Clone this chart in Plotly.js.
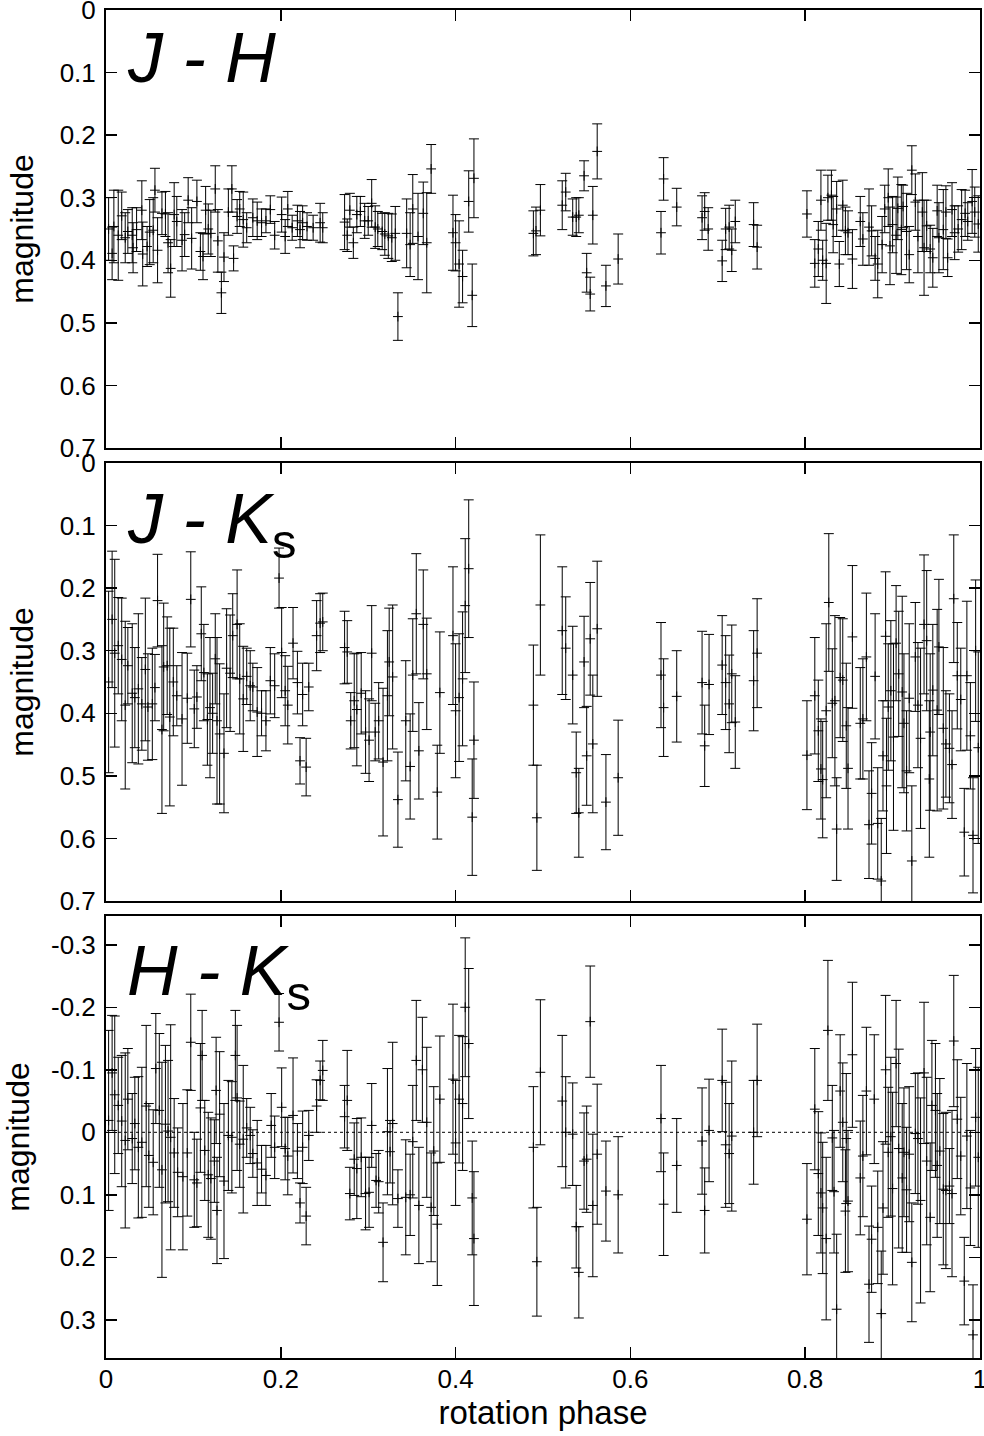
<!DOCTYPE html>
<html>
<head>
<meta charset="utf-8">
<script src="https://cdn.plot.ly/plotly-3.0.1.min.js"></script>
<style>html,body{margin:0;padding:0;background:#fff;}#chart{width:984px;height:1436px;}</style>
</head>
<body>
<div id="chart"></div>
<script>
// ---- Panel 1: J - H ----
const phaseJH = [0.003,0.007,0.009,0.014,0.018,0.022,0.025,0.030,0.031,0.035,0.041,0.042,0.047,0.050,0.054,0.056,0.059,0.064,0.068,0.071,0.074,0.078,0.081,0.087,0.090,0.094,0.098,0.104,0.108,0.111,0.114,0.117,0.120,0.125,0.128,0.132,0.135,0.140,0.144,0.146,0.150,0.153,0.157,0.161,0.168,0.173,0.178,0.183,0.188,0.193,0.201,0.205,0.208,0.213,0.219,0.222,0.225,0.230,0.237,0.245,0.248,
0.273,0.276,0.279,0.283,0.287,0.291,0.296,0.300,0.304,0.308,0.311,0.316,0.319,0.323,0.327,0.331,0.334,0.344,0.348,0.351,0.357,0.363,0.367,0.372,0.397,0.400,0.404,0.408,0.415,0.419,0.421,
0.489,0.492,0.497,0.522,0.526,0.534,0.538,0.541,0.547,0.550,0.554,0.557,0.562,0.572,0.586,0.635,0.638,0.653,0.682,0.685,0.689,0.705,0.709,0.713,0.716,0.720,0.741,0.745,
0.802,0.811,0.815,0.818,0.820,0.824,0.826,0.830,0.832,0.836,0.839,0.843,0.846,0.849,0.854,0.863,0.866,0.873,0.876,0.880,0.883,0.888,0.891,0.895,0.897,0.900,0.904,0.906,0.910,0.912,0.916,0.919,0.922,0.926,0.929,0.934,0.936,0.939,0.943,0.946,0.951,0.953,0.958,0.961,0.963,0.968,0.971,0.975,0.979,0.983,0.986,0.991,0.994,0.998];
const valJH = [0.350,0.389,0.346,0.360,0.329,0.364,0.354,0.360,0.380,0.351,0.320,0.390,0.378,0.355,0.352,0.288,0.384,0.325,0.326,0.372,0.413,0.327,0.338,0.368,0.359,0.304,0.365,0.306,0.386,0.394,0.320,0.350,0.357,0.286,0.369,0.452,0.395,0.323,0.286,0.397,0.330,0.318,0.335,0.348,0.332,0.337,0.340,0.337,0.319,0.360,0.327,0.362,0.318,0.348,0.337,0.351,0.340,0.346,0.348,0.340,0.348,
0.339,0.360,0.320,0.372,0.327,0.322,0.337,0.337,0.309,0.347,0.350,0.354,0.358,0.361,0.364,0.357,0.490,0.357,0.375,0.318,0.362,0.325,0.372,0.254,0.356,0.372,0.406,0.426,0.306,0.456,0.269,
0.357,0.353,0.320,0.312,0.291,0.331,0.331,0.328,0.265,0.420,0.454,0.328,0.226,0.441,0.398,0.356,0.270,0.315,0.332,0.322,0.350,0.401,0.350,0.347,0.384,0.338,0.343,0.379,
0.326,0.405,0.382,0.304,0.400,0.405,0.300,0.296,0.343,0.318,0.406,0.312,0.353,0.356,0.398,0.338,0.366,0.347,0.353,0.397,0.406,0.375,0.318,0.300,0.377,0.343,0.360,0.317,0.351,0.314,0.354,0.391,0.256,0.307,0.362,0.323,0.380,0.345,0.382,0.396,0.321,0.364,0.351,0.323,0.396,0.319,0.356,0.350,0.335,0.325,0.338,0.306,0.323,0.342];
const errJH = [0.050,0.042,0.058,0.072,0.038,0.040,0.035,0.044,0.040,0.035,0.047,0.051,0.032,0.052,0.052,0.035,0.052,0.034,0.036,0.048,0.046,0.051,0.040,0.049,0.035,0.036,0.049,0.034,0.030,0.037,0.038,0.040,0.037,0.037,0.050,0.033,0.039,0.037,0.037,0.020,0.027,0.028,0.044,0.024,0.030,0.030,0.022,0.019,0.022,0.022,0.028,0.027,0.028,0.020,0.025,0.029,0.027,0.022,0.020,0.031,0.024,
0.044,0.026,0.027,0.025,0.029,0.024,0.028,0.023,0.038,0.034,0.028,0.029,0.034,0.036,0.038,0.043,0.038,0.055,0.051,0.055,0.069,0.050,0.080,0.039,0.060,0.045,0.069,0.042,0.049,0.050,0.063,
0.036,0.038,0.041,0.039,0.030,0.029,0.031,0.028,0.024,0.031,0.027,0.046,0.044,0.033,0.040,0.034,0.034,0.030,0.035,0.030,0.034,0.033,0.033,0.035,0.034,0.034,0.035,0.035,
0.037,0.038,0.044,0.048,0.032,0.064,0.036,0.040,0.045,0.044,0.036,0.040,0.038,0.035,0.047,0.040,0.042,0.061,0.040,0.035,0.054,0.045,0.038,0.046,0.062,0.045,0.061,0.050,0.072,0.034,0.061,0.045,0.039,0.045,0.058,0.063,0.076,0.041,0.038,0.047,0.041,0.056,0.064,0.042,0.030,0.043,0.043,0.037,0.048,0.037,0.030,0.051,0.040,0.045];

// ---- Panel 2: J - Ks ----
const phaseJK = [0.003,0.007,0.010,0.014,0.018,0.022,0.025,0.030,0.033,0.037,0.041,0.045,0.048,0.053,0.056,0.059,0.064,0.066,0.070,0.073,0.077,0.081,0.087,0.093,0.097,0.101,0.104,0.109,0.112,0.116,0.119,0.122,0.125,0.127,0.130,0.135,0.138,0.142,0.145,0.150,0.153,0.157,0.161,0.165,0.168,0.173,0.178,0.183,0.188,0.193,0.198,0.201,0.205,0.208,0.214,0.219,0.222,0.225,0.229,0.232,0.241,0.245,0.248,
0.273,0.276,0.280,0.284,0.287,0.292,0.297,0.301,0.304,0.308,0.312,0.317,0.322,0.324,0.328,0.334,0.343,0.348,0.351,0.355,0.358,0.363,0.367,0.379,0.382,0.397,0.400,0.404,0.408,0.411,0.415,0.419,0.421,
0.489,0.493,0.497,0.522,0.526,0.534,0.538,0.541,0.547,0.550,0.554,0.557,0.562,0.572,0.586,0.635,0.638,0.653,0.682,0.685,0.690,0.705,0.709,0.713,0.716,0.720,0.741,0.745,
0.802,0.811,0.815,0.818,0.820,0.824,0.827,0.831,0.834,0.836,0.840,0.843,0.847,0.849,0.854,0.863,0.866,0.870,0.873,0.876,0.880,0.883,0.887,0.889,0.892,0.893,0.895,0.898,0.901,0.904,0.907,0.911,0.913,0.916,0.919,0.922,0.926,0.929,0.932,0.936,0.939,0.942,0.943,0.946,0.951,0.953,0.958,0.961,0.965,0.968,0.970,0.974,0.978,0.982,0.985,0.989,0.992,0.995,0.998];
const valJK = [0.350,0.250,0.304,0.292,0.314,0.387,0.324,0.368,0.375,0.361,0.385,0.330,0.390,0.385,0.359,0.220,0.426,0.326,0.324,0.406,0.350,0.372,0.409,0.376,0.218,0.393,0.374,0.273,0.335,0.410,0.391,0.400,0.313,0.412,0.433,0.464,0.328,0.336,0.276,0.258,0.345,0.377,0.341,0.356,0.358,0.398,0.400,0.412,0.348,0.356,0.184,0.303,0.364,0.387,0.288,0.351,0.476,0.370,0.486,0.358,0.276,0.256,0.254,
0.295,0.302,0.412,0.380,0.394,0.368,0.430,0.443,0.304,0.430,0.412,0.478,0.372,0.318,0.342,0.538,0.412,0.485,0.339,0.241,0.460,0.258,0.337,0.526,0.367,0.276,0.396,0.375,0.345,0.228,0.169,0.566,0.443,
0.387,0.567,0.227,0.268,0.296,0.339,0.495,0.559,0.318,0.468,0.281,0.449,0.265,0.542,0.503,0.339,0.391,0.373,0.351,0.452,0.354,0.323,0.351,0.385,0.337,0.414,0.348,0.304,
0.467,0.372,0.428,0.489,0.506,0.396,0.223,0.384,0.380,0.585,0.343,0.347,0.420,0.488,0.278,0.416,0.409,0.310,0.578,0.528,0.341,0.576,0.668,0.468,0.277,0.516,0.390,0.364,0.438,0.288,0.337,0.366,0.416,0.492,0.376,0.636,0.310,0.387,0.440,0.258,0.284,0.505,0.430,0.363,0.395,0.294,0.424,0.449,0.456,0.482,0.217,0.340,0.378,0.590,0.340,0.436,0.595,0.300,0.455];
const errJK = [0.145,0.109,0.150,0.077,0.098,0.134,0.061,0.111,0.080,0.120,0.074,0.114,0.085,0.089,0.053,0.074,0.134,0.102,0.078,0.142,0.086,0.048,0.106,0.072,0.076,0.062,0.050,0.075,0.077,0.073,0.112,0.064,0.072,0.133,0.112,0.095,0.095,0.093,0.067,0.087,0.088,0.084,0.045,0.056,0.038,0.071,0.036,0.048,0.053,0.051,0.048,0.072,0.056,0.062,0.057,0.050,0.037,0.050,0.046,0.038,0.056,0.047,0.046,
0.058,0.050,0.045,0.075,0.090,0.065,0.066,0.066,0.076,0.046,0.061,0.118,0.104,0.086,0.115,0.076,0.096,0.084,0.090,0.096,0.077,0.087,0.089,0.075,0.097,0.110,0.107,0.102,0.107,0.107,0.110,0.093,0.093,
0.096,0.084,0.112,0.102,0.082,0.078,0.065,0.071,0.073,0.079,0.090,0.110,0.108,0.076,0.092,0.084,0.078,0.073,0.082,0.065,0.080,0.079,0.075,0.078,0.078,0.074,0.080,0.087,
0.087,0.093,0.081,0.080,0.093,0.139,0.110,0.087,0.136,0.082,0.096,0.098,0.100,0.097,0.114,0.089,0.096,0.102,0.086,0.081,0.100,0.089,0.100,0.088,0.103,0.108,0.101,0.112,0.149,0.092,0.100,0.153,0.111,0.096,0.119,0.120,0.087,0.100,0.144,0.111,0.112,0.125,0.125,0.105,0.161,0.108,0.129,0.085,0.087,0.086,0.102,0.085,0.082,0.070,0.119,0.085,0.092,0.113,0.153];

// ---- Panel 3: H - Ks ----
const phaseHK = [0.003,0.007,0.010,0.014,0.018,0.022,0.025,0.030,0.033,0.037,0.041,0.046,0.049,0.054,0.057,0.061,0.064,0.068,0.071,0.074,0.078,0.082,0.088,0.093,0.097,0.101,0.104,0.108,0.110,0.113,0.117,0.120,0.124,0.126,0.127,0.130,0.135,0.140,0.144,0.148,0.150,0.153,0.157,0.161,0.165,0.168,0.173,0.178,0.183,0.189,0.193,0.198,0.201,0.205,0.208,0.214,0.219,0.222,0.225,0.229,0.232,0.241,0.245,0.248,
0.273,0.276,0.279,0.284,0.287,0.292,0.297,0.301,0.304,0.309,0.312,0.317,0.322,0.325,0.328,0.334,0.343,0.348,0.351,0.355,0.358,0.362,0.367,0.372,0.375,0.379,0.382,0.397,0.400,0.404,0.408,0.411,0.415,0.419,0.421,
0.489,0.493,0.497,0.522,0.526,0.534,0.538,0.541,0.547,0.550,0.554,0.557,0.562,0.572,0.586,0.635,0.638,0.653,0.682,0.685,0.690,0.705,0.709,0.713,0.716,0.741,0.745,
0.802,0.811,0.815,0.818,0.820,0.824,0.826,0.831,0.833,0.836,0.840,0.843,0.846,0.847,0.849,0.854,0.863,0.866,0.870,0.873,0.876,0.879,0.883,0.887,0.889,0.892,0.895,0.898,0.900,0.904,0.907,0.911,0.913,0.916,0.919,0.922,0.926,0.929,0.932,0.936,0.939,0.943,0.945,0.949,0.951,0.954,0.958,0.961,0.965,0.968,0.970,0.974,0.978,0.982,0.985,0.989,0.992,0.995,0.998];
const valHK = [-0.019,-0.095,-0.060,-0.043,-0.018,0.013,-0.053,0.010,-0.014,0.024,0.016,-0.042,0.037,0.048,-0.102,-0.035,0.060,-0.013,-0.002,0.008,0.033,0.064,0.071,0.033,-0.144,0.076,0.081,-0.039,-0.123,0.029,0.068,0.074,0.046,-0.067,0.125,-0.029,0.078,0.005,0.008,-0.123,-0.055,0.019,0.011,-0.007,0.005,0.034,0.049,0.059,0.069,-0.011,0.024,-0.176,-0.040,0.026,0.038,-0.027,0.030,0.113,0.024,0.134,0.005,-0.042,-0.083,-0.099,
-0.025,-0.051,0.098,0.043,0.058,0.040,0.098,0.096,-0.011,0.077,0.079,0.176,-0.001,0.031,-0.014,0.106,0.104,0.100,0.015,-0.115,0.117,-0.100,-0.016,0.120,0.030,0.147,-0.053,-0.085,0.017,-0.053,-0.046,-0.200,-0.142,0.105,0.170,
0.024,0.207,-0.096,-0.050,0.000,0.003,0.151,0.224,0.046,0.043,-0.177,0.117,0.035,0.094,0.100,-0.022,0.115,0.053,0.014,0.125,-0.003,-0.083,0.020,0.034,0.006,0.000,-0.083,
0.139,-0.037,0.066,0.097,0.121,0.170,-0.163,0.009,0.095,0.283,-0.066,-0.016,0.126,0.010,0.110,-0.124,0.073,0.038,-0.066,0.243,0.171,-0.053,0.152,0.290,0.121,-0.100,0.032,0.007,0.090,-0.110,0.026,0.073,0.032,0.092,0.035,0.208,0.002,0.010,0.109,-0.095,0.046,0.136,-0.043,-0.035,0.053,0.030,0.091,0.093,0.086,0.098,-0.146,-0.021,0.038,0.238,0.006,0.089,0.324,-0.024,0.040];
const errHK = [0.144,0.092,0.126,0.077,0.105,0.140,0.081,0.072,0.074,0.113,0.120,0.129,0.083,0.084,0.088,0.123,0.172,0.126,0.113,0.180,0.087,0.071,0.117,0.101,0.077,0.076,0.070,0.103,0.072,0.080,0.100,0.097,0.066,0.085,0.085,0.100,0.124,0.088,0.089,0.072,0.116,0.069,0.118,0.047,0.045,0.038,0.068,0.038,0.048,0.051,0.050,0.046,0.063,0.050,0.062,0.092,0.044,0.032,0.058,0.046,0.040,0.042,0.031,0.048,
0.050,0.080,0.042,0.058,0.080,0.063,0.058,0.056,0.067,0.043,0.050,0.063,0.101,0.050,0.130,0.046,0.092,0.065,0.090,0.096,0.093,0.084,0.120,0.087,0.103,0.098,0.101,0.120,0.100,0.102,0.107,0.111,0.120,0.091,0.107,
0.097,0.087,0.116,0.105,0.089,0.082,0.066,0.073,0.077,0.085,0.089,0.114,0.112,0.080,0.093,0.085,0.082,0.075,0.085,0.068,0.082,0.082,0.100,0.080,0.120,0.083,0.090,
0.089,0.097,0.099,0.096,0.105,0.130,0.112,0.084,0.098,0.120,0.090,0.095,0.098,0.104,0.113,0.116,0.091,0.097,0.102,0.093,0.085,0.103,0.090,0.100,0.106,0.119,0.104,0.127,0.154,0.101,0.159,0.119,0.103,0.100,0.108,0.095,0.096,0.105,0.164,0.113,0.134,0.119,0.104,0.107,0.115,0.116,0.121,0.125,0.060,0.133,0.105,0.095,0.094,0.070,0.116,0.092,0.080,0.110,0.144];

// ---- axis ticks / labels ----
const xTicks = [0, 0.2, 0.4, 0.6, 0.8, 1];
const xTickText = ['0', '0.2', '0.4', '0.6', '0.8', '1'];
const yTicksJ = [0, 0.1, 0.2, 0.3, 0.4, 0.5, 0.6, 0.7];
const yTickTextJ = ['0', '0.1', '0.2', '0.3', '0.4', '0.5', '0.6', '0.7'];
const yTicksHK = [-0.3, -0.2, -0.1, 0, 0.1, 0.2, 0.3];
const yTickTextHK = ['-0.3', '-0.2', '-0.1', '0', '0.1', '0.2', '0.3'];
const panelLabels = ['<i>J - H</i>', '<i>J - K</i><sub>s</sub>', '<i>H - K</i><sub>s</sub>'];
const yTitle = 'magnitude';
const xTitle = 'rotation phase';

const FONT = 'Liberation Sans, Arial, Helvetica, sans-serif';

function makeTrace(x, y, e, xa, ya) {
  return {
    type: 'scatter', mode: 'markers', x: x, y: y, xaxis: xa, yaxis: ya,
    marker: {symbol: 'cross-thin', size: 7, color: 'black', line: {width: 1, color: 'black'}},
    error_y: {type: 'data', array: e, visible: true, color: 'black', thickness: 1, width: 5},
    showlegend: false, hoverinfo: 'skip', cliponaxis: true
  };
}

const traces = [
  makeTrace(phaseJH, valJH, errJH, 'x', 'y'),
  makeTrace(phaseJK, valJK, errJK, 'x2', 'y2'),
  makeTrace(phaseHK, valHK, errHK, 'x3', 'y3')
];

function xAxis(anchor, labels) {
  const a = {
    anchor: anchor, domain: [0, 1], range: [0, 1], tickvals: xTicks, ticktext: xTickText,
    showticklabels: labels, ticks: 'inside', ticklen: 11, tickwidth: 1.5, tickcolor: 'black',
    showline: true, linewidth: 2, linecolor: 'black', mirror: 'ticks',
    showgrid: false, zeroline: false, ticklabelstandoff: -3, ticklabeloverflow: 'allow',
    tickfont: {family: FONT, size: 26, color: 'black'}
  };
  if (labels) a.title = {text: xTitle, font: {family: FONT, size: 33, color: 'black'}, standoff: 2};
  return a;
}
function yAxis(anchor, domain, range, tv, tt) {
  return {
    anchor: anchor, domain: domain, range: range, tickvals: tv, ticktext: tt,
    ticks: 'inside', ticklen: 11, tickwidth: 1.5, tickcolor: 'black',
    showline: true, linewidth: 2, linecolor: 'black', mirror: 'ticks',
    showgrid: false, zeroline: false, ticklabelstandoff: 3, ticklabeloverflow: 'allow',
    tickfont: {family: FONT, size: 26, color: 'black'},
    title: {text: yTitle, font: {family: FONT, size: 32, color: 'black'}, standoff: 16}
  };
}

const PLOT_W = 874, PLOT_H = 1348, PLOT_L = 106, PLOT_T = 10;
function px2x(px) { return (px - PLOT_L) / PLOT_W; }
function py2y(py) { return (PLOT_T + PLOT_H - py) / PLOT_H; }

const layout = {
  width: 984, height: 1436,
  margin: {l: 106, r: 4, t: 10, b: 78},
  paper_bgcolor: 'white', plot_bgcolor: 'white',
  showlegend: false, hovermode: false,
  xaxis: xAxis('y', false),
  xaxis2: xAxis('y2', false),
  xaxis3: xAxis('y3', true),
  yaxis: yAxis('x', [0.6751, 1], [0.7, 0], yTicksJ, yTickTextJ),
  yaxis2: yAxis('x2', [0.3390, 0.6640], [0.7, 0], yTicksJ, yTickTextJ),
  yaxis3: yAxis('x3', [0, 0.3279], [0.361, -0.346], yTicksHK, yTickTextHK),
  shapes: [{type: 'line', xref: 'x3', yref: 'y3', x0: 0, x1: 1, y0: 0, y1: 0, layer: 'below',
            line: {color: 'black', width: 1, dash: 'dot'}}],
  annotations: [
    {text: panelLabels[0], xref: 'paper', yref: 'paper', x: px2x(125), y: py2y(58), xanchor: 'left', yanchor: 'middle', showarrow: false, font: {family: FONT, size: 70, color: 'black'}},
    {text: panelLabels[1], xref: 'paper', yref: 'paper', x: px2x(125), y: py2y(524), xanchor: 'left', yanchor: 'middle', showarrow: false, font: {family: FONT, size: 70, color: 'black'}},
    {text: panelLabels[2], xref: 'paper', yref: 'paper', x: px2x(125), y: py2y(976), xanchor: 'left', yanchor: 'middle', showarrow: false, font: {family: FONT, size: 70, color: 'black'}}
  ]
};

Plotly.newPlot('chart', traces, layout, {displayModeBar: false, staticPlot: true});
</script>
</body>
</html>
